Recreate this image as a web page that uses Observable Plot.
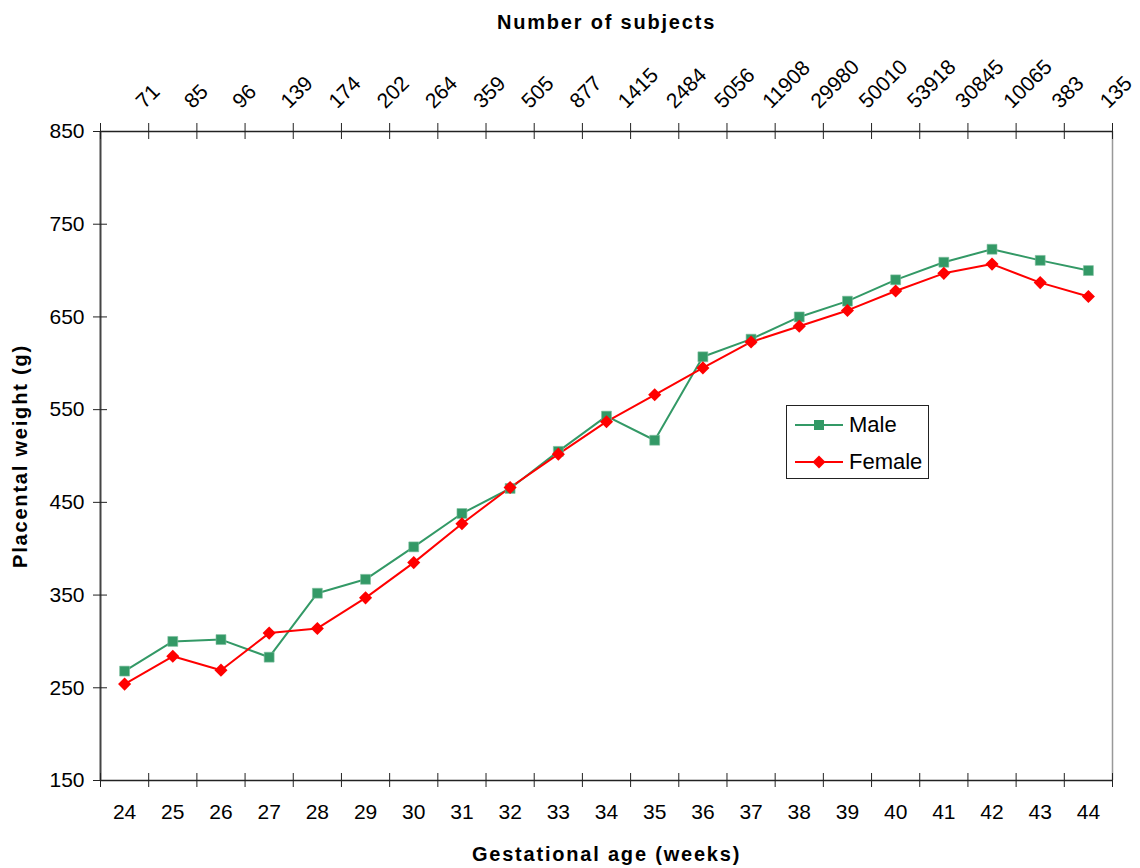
<!DOCTYPE html>
<html>
<head>
<meta charset="utf-8">
<script src="https://cdn.jsdelivr.net/npm/d3@7"></script>
<script src="https://cdn.jsdelivr.net/npm/@observablehq/plot@0.6"></script>
<style>
  body { margin: 0; background: #fff; }
  #chart { position: relative; width: 1140px; height: 868px; }
  .legend {
    position: absolute; left: 786px; top: 405px; width: 141px; height: 72px;
    border: 1px solid #222; background: #fff;
  }
  .legend text { font-family: "Liberation Sans", Arial, sans-serif; font-size: 22px; fill: #000; }
</style>
</head>
<body>
<div id="chart"></div>
<script>
// Gestational age categories (weeks)
const weeks = [24, 25, 26, 27, 28, 29, 30, 31, 32, 33, 34, 35, 36, 37, 38, 39, 40, 41, 42, 43, 44];
// Number of subjects at each gestational age
const subjects = [71, 85, 96, 139, 174, 202, 264, 359, 505, 877, 1415, 2484, 5056, 11908, 29980, 50010, 53918, 30845, 10065, 383, 135];
// Mean placental weight (g)
const male   = [268, 300, 302, 283, 352, 367, 402, 438, 465, 505, 543, 517, 607, 626, 650, 667, 690, 709, 723, 711, 700];
const female = [254, 284, 269, 309, 314, 347, 385, 427, 466, 502, 537, 566, 595, 623, 640, 657, 678, 697, 707, 687, 672];
// Y axis ticks
const yTicks = [150, 250, 350, 450, 550, 650, 750, 850];
// Axis titles
const titleTop = "Number of subjects";
const titleX = "Gestational age (weeks)";
const titleY = "Placental weight (g)";

const GREEN = "#339966";
const RED = "#ff0000";
const FONT = "Liberation Sans, Arial, sans-serif";

const rows = weeks.map((w, i) => ({week: w, n: String(subjects[i]), male: male[i], female: female[i]}));
// category boundaries, where the tick marks of both x axes sit
const bounds = weeks.map(w => w - 0.5).concat([weeks[weeks.length - 1] + 0.5]);
const xMin = bounds[0], xMax = bounds[bounds.length - 1];
const yMin = yTicks[0], yMax = yTicks[yTicks.length - 1];

const chart = Plot.plot({
  width: 1140,
  height: 868,
  marginLeft: 100,
  marginRight: 28,
  marginTop: 131,
  marginBottom: 88,
  style: {fontFamily: FONT, background: "#fff", color: "#000"},
  x: {type: "linear", domain: [xMin, xMax], axis: null},
  y: {domain: [yMin, yMax], axis: null},
  marks: [
    // frame lines
    Plot.ruleX([xMax], {stroke: "#999", strokeWidth: 1.5}),
    Plot.ruleY([yMin], {stroke: "#222", strokeWidth: 1.5}),
    Plot.ruleY([yMax], {stroke: "#222", strokeWidth: 1.5}),
    Plot.ruleX([xMin], {stroke: "#444", strokeWidth: 2}),
    // crossing tick marks
    Plot.ruleX(bounds, {x: d => d, y1: yMin, y2: yMin, insetTop: -7, insetBottom: -7, stroke: "#222"}),
    Plot.ruleX(bounds, {x: d => d, y1: yMax, y2: yMax, insetTop: -8, insetBottom: -8, stroke: "#222"}),
    Plot.ruleY(yTicks, {y: d => d, x1: xMin, x2: xMin, insetLeft: -7, insetRight: -7, stroke: "#222"}),
    // tick labels
    Plot.text(yTicks, {y: d => d, frameAnchor: "left", dx: -16, textAnchor: "end", fontSize: 21, fill: "#000"}),
    Plot.text(weeks, {x: d => d, frameAnchor: "bottom", dy: 38, fontSize: 21, fill: "#000"}),
    Plot.text(rows, {x: "week", text: "n", frameAnchor: "top", dx: 20, dy: -22, rotate: -45,
      textAnchor: "start", lineAnchor: "bottom", fontSize: 21, fill: "#000"}),
    // axis titles
    Plot.text([titleTop], {frameAnchor: "top", dy: -117, fontSize: 20, fontWeight: "bold", fill: "#000"}),
    Plot.text([titleX], {frameAnchor: "bottom", dy: 80, fontSize: 20, fontWeight: "bold", fill: "#000"}),
    Plot.text([titleY], {frameAnchor: "left", dx: -80, rotate: -90, textAnchor: "middle", fontSize: 20, fontWeight: "bold", fill: "#000"}),
    // series
    Plot.line(rows, {x: "week", y: "male", stroke: GREEN, strokeWidth: 2}),
    Plot.line(rows, {x: "week", y: "female", stroke: RED, strokeWidth: 2}),
    Plot.dot(rows, {x: "week", y: "male", symbol: "square", r: 5.6, fill: GREEN, stroke: "#7fbf9f", strokeWidth: 0.6}),
    Plot.dot(rows, {x: "week", y: "female", symbol: "diamond2", r: 5.9, fill: RED})
  ]
});

// wider tracking on the bold axis titles
d3.select(chart).selectAll("text")
  .filter(function () { return [titleTop, titleX, titleY].includes(this.textContent); })
  .style("letter-spacing", "1.8px");

const host = document.getElementById("chart");
host.appendChild(chart);

// legend box
const legend = document.createElement("div");
legend.className = "legend";
legend.innerHTML = `
<svg width="141" height="72">
  <line x1="8" x2="56" y1="19" y2="19" stroke="${GREEN}" stroke-width="2"/>
  <rect x="27" y="14" width="10" height="10" fill="${GREEN}"/>
  <text x="62" y="26">Male</text>
  <line x1="8" x2="56" y1="56" y2="56" stroke="${RED}" stroke-width="2"/>
  <path d="M32,49.5L38.5,56L32,62.5L25.5,56Z" fill="${RED}"/>
  <text x="62" y="63">Female</text>
</svg>`;
host.appendChild(legend);
</script>
</body>
</html>
